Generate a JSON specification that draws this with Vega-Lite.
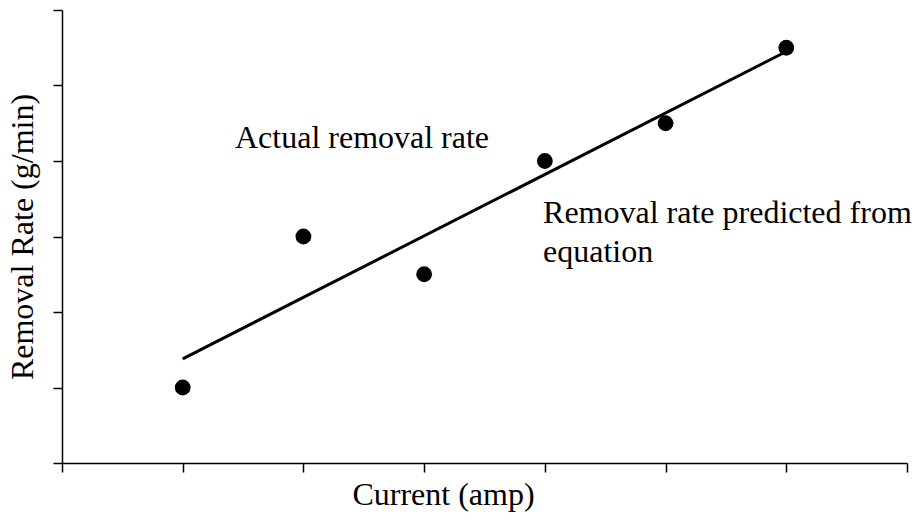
{
  "$schema": "https://vega.github.io/schema/vega-lite/v6.json",
  "width": 845,
  "height": 453,
  "autosize": "none",
  "padding": {"left": 62, "top": 10, "right": 10, "bottom": 61},
  "background": "white",
  "config": {
    "view": {"stroke": null},
    "font": "'Liberation Serif', 'Times New Roman', 'DejaVu Serif', serif"
  },
  "datasets": {
    "actual": [
      {"current": 1, "rate": 1.0},
      {"current": 2, "rate": 3.0},
      {"current": 3, "rate": 2.5},
      {"current": 4, "rate": 4.0},
      {"current": 5, "rate": 4.5},
      {"current": 6, "rate": 5.5}
    ],
    "predicted": [
      {"current": 1, "rate": 1.38},
      {"current": 6, "rate": 5.45}
    ],
    "labels": [
      {"current": 1.433, "rate": 4.172, "label": "Actual removal rate"},
      {"current": 3.985, "rate": 3.179, "label": "Removal rate predicted from"},
      {"current": 3.985, "rate": 2.662, "label": "equation"}
    ]
  },
  "encoding": {
    "x": {
      "field": "current", "type": "quantitative",
      "scale": {"domain": [0, 7], "nice": false, "zero": false},
      "axis": {
        "title": "Current (amp)", "values": [0, 1, 2, 3, 4, 5, 6, 7],
        "labels": false, "grid": false, "tickSize": 9, "tickColor": "black", "tickWidth": 1.5,
        "domainColor": "black", "domainWidth": 1.5,
        "titleFont": "'Liberation Serif', 'Times New Roman', 'DejaVu Serif', serif", "titleFontSize": 32, "titleFontWeight": "normal", "titleColor": "black",
        "titlePadding": 7, "titleX": 381, "titleAnchor": "middle"
      }
    },
    "y": {
      "field": "rate", "type": "quantitative",
      "scale": {"domain": [0, 6], "nice": false, "zero": false},
      "axis": {
        "title": "Removal Rate (g/min)", "values": [0, 1, 2, 3, 4, 5, 6],
        "labels": false, "grid": false, "tickSize": 9, "tickColor": "black", "tickWidth": 1.5,
        "domainColor": "black", "domainWidth": 1.5,
        "titleFont": "'Liberation Serif', 'Times New Roman', 'DejaVu Serif', serif", "titleFontSize": 32, "titleFontWeight": "normal", "titleColor": "black",
        "titlePadding": 13
      }
    }
  },
  "layer": [
    {
      "data": {"name": "predicted"},
      "mark": {"type": "line", "color": "black", "strokeWidth": 3}
    },
    {
      "data": {"name": "actual"},
      "mark": {"type": "point", "filled": true, "shape": "circle", "color": "black", "opacity": 1, "size": 250}
    },
    {
      "data": {"name": "labels"},
      "mark": {"type": "text", "align": "left", "baseline": "alphabetic", "font": "'Liberation Serif', 'Times New Roman', 'DejaVu Serif', serif", "fontSize": 32, "color": "black"},
      "encoding": {"text": {"field": "label"}}
    }
  ]
}
